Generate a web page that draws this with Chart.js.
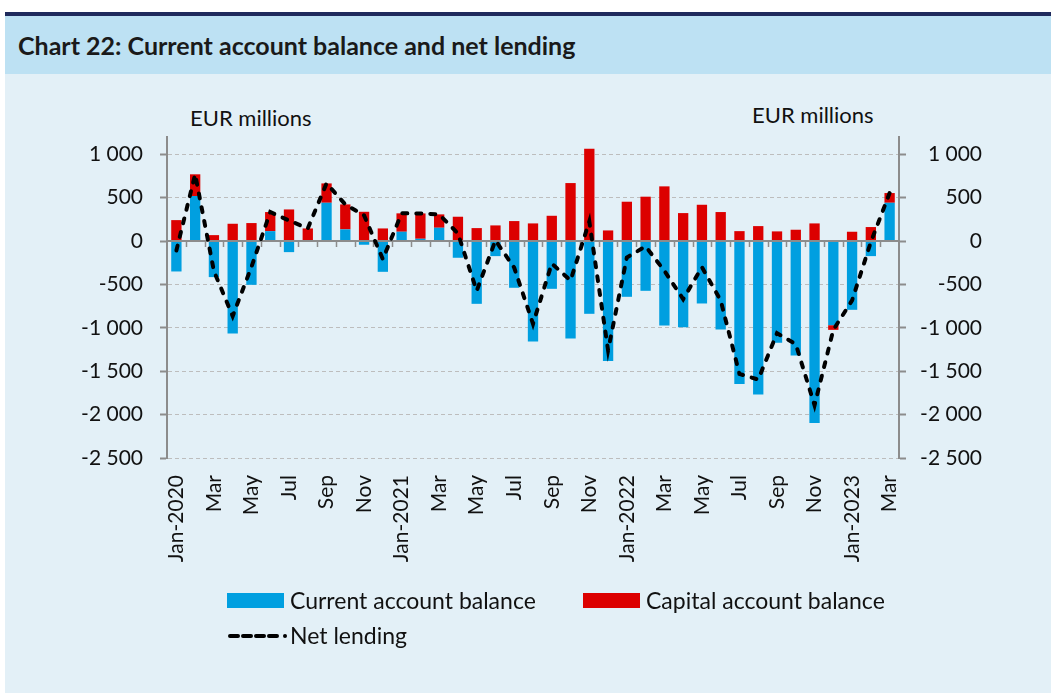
<!DOCTYPE html>
<html>
<head>
<meta charset="utf-8">
<script src="https://cdn.jsdelivr.net/npm/chart.js@4.4.1/dist/chart.umd.min.js"></script>
<style>
  html, body { margin: 0; padding: 0; width: 1051px; height: 693px; overflow: hidden; background: #fff; font-family: Lato, sans-serif; color: #111; }
  .frame { position: absolute; left: 5px; top: 12px; right: 0; bottom: 0; background: #E3F0F7; border-top: 4px solid #1F2A5C; }
  .header { position: absolute; left: 0; right: 0; top: 0; height: 58px; background: #BDE1F3; }
  .title { position: absolute; left: 13px; top: 17px; font-weight: bold; font-size: 25px; line-height: 1; color: #1a1a1a; }
  .unit { position: absolute; font-size: 22px; line-height: 1; }
  #chart { position: absolute; left: 0; top: 0; }
  #legend { position: absolute; left: 227px; top: 589px; display: grid; grid-template-columns: 356px 330px; row-gap: 13px; font-size: 23px; line-height: 22px; }
  .item { display: flex; align-items: center; }
  .box { width: 57px; height: 15px; margin-right: 6px; }
</style>
</head>
<body>
<div class="frame">
  <div class="header"><div class="title">Chart 22: Current account balance and net lending</div></div>
</div>
<div class="unit" style="left:190px; top:107px;">EUR millions</div>
<div class="unit" style="left:752px; top:104px;">EUR millions</div>
<canvas id="chart" width="1051" height="693"></canvas>
<div id="legend"></div>
<script>
const labels = ['Jan-2020', 'Feb', 'Mar', 'Apr', 'May', 'Jun', 'Jul', 'Aug', 'Sep', 'Oct', 'Nov', 'Dec',
  'Jan-2021', 'Feb', 'Mar', 'Apr', 'May', 'Jun', 'Jul', 'Aug', 'Sep', 'Oct', 'Nov', 'Dec',
  'Jan-2022', 'Feb', 'Mar', 'Apr', 'May', 'Jun', 'Jul', 'Aug', 'Sep', 'Oct', 'Nov', 'Dec',
  'Jan-2023', 'Feb', 'Mar'];

const currentAccount = [-350, 520, -415, -1065, -504, 115, -127, 0, 442, 135, -42, -354,
  108, 27, 154, -192, -723, -173, -538, -1158, -550, -1123, -838, -1381,
  -642, -573, -973, -992, -719, -1019, -1646, -1769, -1173, -1319, -2096, -969,
  -792, -173, 442];

const capitalAccount = [242, 250, 69, 200, 208, 220, 365, 146, 223, 288, 338, 146,
  212, 292, 154, 281, 150, 181, 231, 204, 292, 669, 1065, 123,
  454, 512, 631, 323, 419, 335, 115, 173, 112, 131, 204, -54,
  108, 162, 112];

const netLending = [-108, 770, -346, -865, -296, 335, 238, 146, 665, 423, 296, -208,
  320, 319, 308, 89, -573, 8, -307, -954, -258, -454, 227, -1258,
  -188, -61, -342, -669, -300, -684, -1531, -1596, -1061, -1188, -1892, -1023,
  -684, -11, 554];

const yTicks = [-2500, -2000, -1500, -1000, -500, 0, 500, 1000];

const blue = '#009FE0';
const red = '#DC0000';
const axisGrey = '#8c8c8c';
const font = { family: 'Lato', size: 21 };

function fmt(v) {
  const a = Math.abs(v);
  let s = a >= 1000 ? Math.floor(a / 1000) + ' ' + String(a % 1000).padStart(3, '0') : String(a);
  return (v < 0 ? '-' : '') + s;
}

// zero axis with category tick marks, drawn over the bars but under the line
const zeroAxis = {
  id: 'zeroAxis',
  afterDatasetDraw(chart, args) {
    if (args.index !== 0) return;
    const { ctx, chartArea, scales } = chart;
    const x = scales.x;
    const y0 = scales.y.getPixelForValue(0);
    ctx.save();
    ctx.strokeStyle = axisGrey;
    ctx.lineWidth = 2;
    ctx.beginPath();
    ctx.moveTo(chartArea.left, y0);
    ctx.lineTo(chartArea.right, y0);
    ctx.stroke();
    ctx.lineWidth = 1.5;
    ctx.beginPath();
    for (let i = 1; i < labels.length; i++) {
      const bx = Math.round((x.getPixelForValue(i - 1) + x.getPixelForValue(i)) / 2) + 0.5;
      ctx.moveTo(bx, y0);
      ctx.lineTo(bx, y0 + 6);
    }
    ctx.stroke();
    ctx.restore();
  }
};

const setTicks = s => { s.ticks = yTicks.map(v => ({ value: v })); };

const chart = new Chart(document.getElementById('chart'), {
  type: 'bar',
  data: {
    labels: labels,
    datasets: [
      { label: 'Current account balance', data: currentAccount, backgroundColor: blue, stack: 'bal', order: 1,
        barPercentage: 0.55, categoryPercentage: 1 },
      { label: 'Capital account balance', data: capitalAccount, backgroundColor: red, stack: 'bal', order: 1,
        barPercentage: 0.55, categoryPercentage: 1 },
      { type: 'line', label: 'Net lending', data: netLending, stack: 'net', order: 0,
        borderColor: '#000', borderWidth: 4, borderDash: [5, 9], borderCapStyle: 'round',
        pointRadius: 0, tension: 0, fill: false }
    ]
  },
  options: {
    responsive: false,
    animation: false,
    layout: { padding: { top: 137, right: 69, bottom: 0, left: 0 } },
    plugins: { legend: { display: false }, tooltip: { enabled: false } },
    scales: {
      x: {
        stacked: true,
        grid: { display: false, drawTicks: false },
        border: { display: false },
        ticks: {
          autoSkip: false, maxRotation: 90, minRotation: 90, padding: 17, color: '#111', font: font,
          callback: (v, i) => i % 2 === 0 ? labels[i] : ''
        },
        afterFit: s => { s.height = 235; }
      },
      y: {
        position: 'left', stacked: true, min: -2500, max: 1200,
        afterBuildTicks: setTicks,
        afterFit: s => { s.width = 167; },
        grid: { color: '#bdbdbd', lineWidth: 1, tickLength: 7, tickColor: axisGrey, tickWidth: 2 },
        border: { display: true, color: axisGrey, width: 2, dash: [4, 3] },
        ticks: { padding: 17, color: '#111', font: font, callback: fmt }
      },
      y2: {
        position: 'right', min: -2500, max: 1200,
        afterBuildTicks: setTicks,
        afterFit: s => { s.width = 83; },
        grid: { drawOnChartArea: false, tickLength: 7, tickColor: axisGrey, tickWidth: 2 },
        border: { display: true, color: axisGrey, width: 2 },
        ticks: { crossAlign: 'far', padding: 17, color: '#111', font: font, callback: fmt }
      }
    }
  },
  plugins: [zeroAxis]
});

// legend built from the datasets
const legend = document.getElementById('legend');
chart.data.datasets.forEach(ds => {
  const item = document.createElement('div');
  item.className = 'item';
  if (ds.type === 'line') {
    item.innerHTML = '<svg width="63" height="15"><line x1="3" y1="8" x2="55" y2="8" stroke="#000" stroke-width="4" ' +
      'stroke-dasharray="8 5" stroke-linecap="round"/><circle cx="58" cy="8" r="2" fill="#000"/></svg>';
  } else {
    item.innerHTML = '<div class="box" style="background:' + ds.backgroundColor + '"></div>';
  }
  const t = document.createElement('span');
  t.textContent = ds.label;
  item.appendChild(t);
  legend.appendChild(item);
});
</script>
</body>
</html>
